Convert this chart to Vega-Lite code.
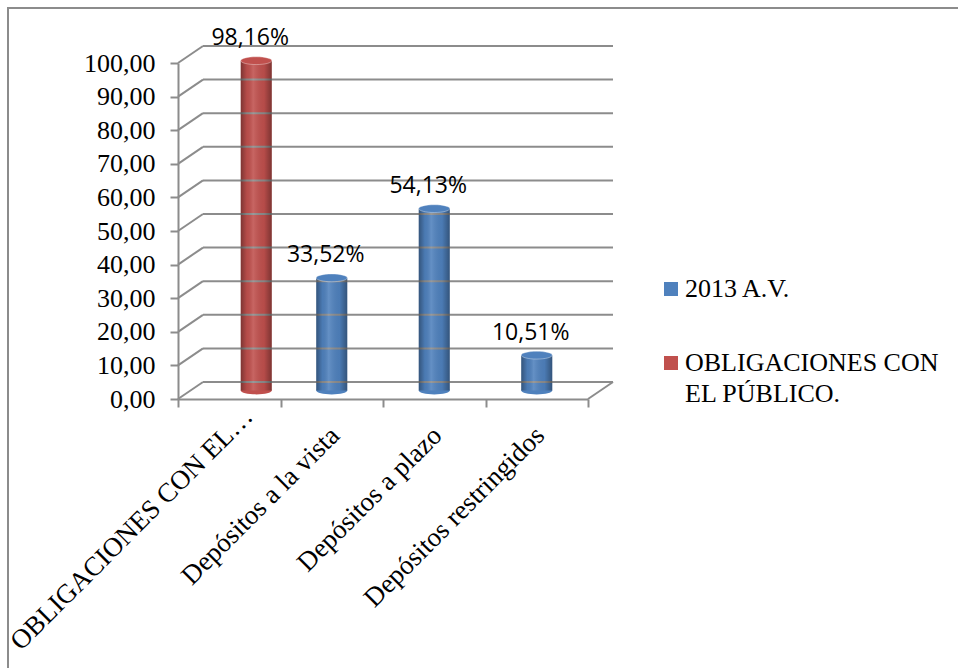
{
  "$schema": "https://vega.github.io/schema/vega-lite/v6.json",
  "width": 952,
  "height": 680,
  "autosize": {"type": "none"},
  "padding": {"left": 8, "top": 8, "right": 0, "bottom": 0},
  "background": "white",
  "config": {
    "view": {"stroke": "#8c8c8c", "strokeWidth": 2},
    "axis": {"grid": false, "title": null},
    "style": {"guide-label": {"lineHeight": 31}}
  },
  "datasets": {
    "barras": [
      {"categoria": "OBLIGACIONES CON EL PÚBLICO.", "serie": "OBLIGACIONES CON EL PÚBLICO.", "valor": 98.16},
      {"categoria": "Depósitos a la vista", "serie": "2013 A.V.", "valor": 33.52},
      {"categoria": "Depósitos a plazo", "serie": "2013 A.V.", "valor": 54.13},
      {"categoria": "Depósitos restringidos", "serie": "2013 A.V.", "valor": 10.51}
    ],
    "grid": [
      {"v": 0}, {"v": 10}, {"v": 20}, {"v": 30}, {"v": 40}, {"v": 50},
      {"v": 60}, {"v": 70}, {"v": 80}, {"v": 90}, {"v": 100}
    ]
  },
  "layer": [
    {
      "data": {"name": "barras"},
      "mark": {"type": "bar", "width": 31, "yOffset": -8.5, "y2Offset": -8.5,
        "xOffset": {"expr": "datum.serie == 'OBLIGACIONES CON EL PÚBLICO.' ? 27 : 0"}},
      "encoding": {
        "x": {
          "field": "categoria", "type": "nominal", "sort": null,
          "scale": {"domain": ["OBLIGACIONES CON EL PÚBLICO.", "Depósitos a la vista", "Depósitos a plazo", "Depósitos restringidos"], "range": [170, 580], "paddingInner": 0, "paddingOuter": 0},
          "axis": {
            "orient": "bottom", "offset": -289, "tickBand": "extent",
            "domainColor": "#8c8c8c", "domainWidth": 2, "tickColor": "#8c8c8c", "tickWidth": 2, "tickSize": 8,
            "labelAngle": -45, "labelAlign": "right", "labelBaseline": "middle",
            "labelFont": "Liberation Serif", "labelFontSize": 27, "labelColor": "black",
            "labelPadding": {"condition": {"test": "datum.value == 'OBLIGACIONES CON EL PÚBLICO.'", "value": 5}, "value": 24},
            "labelOffset": {"condition": {"test": "datum.value == 'OBLIGACIONES CON EL PÚBLICO.'", "value": 19}, "value": 3},
            "labelLimit": 333
          }
        },
        "y": {
          "field": "valor", "type": "quantitative",
          "scale": {"domain": [0, 100], "range": [391, 55], "nice": false, "zero": true},
          "axis": {
            "orient": "left", "offset": -170,
            "values": [0, 10, 20, 30, 40, 50, 60, 70, 80, 90, 100],
            "labelExpr": "replace(format(datum.value, '.2f'), '.', ',')",
            "domainColor": "#8c8c8c", "domainWidth": 2, "tickColor": "#8c8c8c", "tickWidth": 2, "tickSize": 8,
            "labelFont": "Liberation Serif", "labelFontSize": 26, "labelColor": "black", "labelPadding": 15
          }
        },
        "y2": {"datum": 0},
        "color": {
          "field": "serie", "type": "nominal",
          "scale": {"domain": ["2013 A.V.", "OBLIGACIONES CON EL PÚBLICO."], "range": ["#4F81BD", "#C0504D"]},
          "legend": {
            "orient": "none", "legendX": 650, "legendY": 268,
            "title": null, "symbolType": "square", "symbolSize": 196, "symbolStrokeWidth": 0,
            "labelFont": "Liberation Serif", "labelFontSize": 26, "labelColor": "black",
            "labelOffset": 1, "rowPadding": 48, "labelLimit": 400,
            "labelExpr": "datum.label == 'OBLIGACIONES CON EL PÚBLICO.' ? ['OBLIGACIONES CON', 'EL PÚBLICO.'] : datum.label"
          }
        }
      }
    },
    {
      "data": {"name": "grid"},
      "mark": {"type": "rule", "color": "#8c8c8c", "strokeWidth": 2, "xOffset": 25, "x2Offset": 25, "yOffset": -17},
      "encoding": {
        "x": {"datum": "OBLIGACIONES CON EL PÚBLICO.", "type": "nominal", "bandPosition": 0},
        "x2": {"datum": "Depósitos restringidos", "bandPosition": 1},
        "y": {"field": "v", "type": "quantitative"}
      }
    },
    {
      "data": {"name": "grid"},
      "mark": {"type": "rule", "color": "#8c8c8c", "strokeWidth": 2, "x2Offset": 25, "y2Offset": -17},
      "encoding": {
        "x": {"datum": "OBLIGACIONES CON EL PÚBLICO.", "type": "nominal", "bandPosition": 0},
        "x2": {"datum": "OBLIGACIONES CON EL PÚBLICO.", "bandPosition": 0},
        "y": {"field": "v", "type": "quantitative"},
        "y2": {"field": "v"}
      }
    },
    {
      "data": {"name": "grid"},
      "transform": [{"filter": "datum.v == 0"}],
      "mark": {"type": "rule", "color": "#8c8c8c", "strokeWidth": 2, "x2Offset": 25, "y2Offset": -17},
      "encoding": {
        "x": {"datum": "Depósitos restringidos", "type": "nominal", "bandPosition": 1},
        "x2": {"datum": "Depósitos restringidos", "bandPosition": 1},
        "y": {"field": "v", "type": "quantitative"},
        "y2": {"field": "v"}
      }
    },
    {
      "data": {"name": "barras"},
      "mark": {"type": "point", "filled": true, "opacity": 1, "size": 961, "shape": "M-1,0A1,0.25,0,1,0,1,0A1,0.25,0,1,0,-1,0Z", "yOffset": -8.5,
        "xOffset": {"expr": "datum.serie == 'OBLIGACIONES CON EL PÚBLICO.' ? 27 : 0"}},
      "encoding": {
        "x": {"field": "categoria", "type": "nominal", "sort": null},
        "y": {"datum": 0, "type": "quantitative"},
        "color": {"field": "serie", "type": "nominal"}
      }
    },
    {
      "data": {"name": "barras"},
      "mark": {"type": "bar", "width": 31, "yOffset": -8.5, "y2Offset": -8.5,
        "xOffset": {"expr": "datum.serie == 'OBLIGACIONES CON EL PÚBLICO.' ? 27 : 0"},
        "fill": {"gradient": "linear", "x1": 0, "x2": 1, "y1": 0, "y2": 0, "stops": [
          {"offset": 0, "color": "rgba(0,0,0,0.35)"},
          {"offset": 0.2, "color": "rgba(0,0,0,0.05)"},
          {"offset": 0.4, "color": "rgba(255,255,255,0.12)"},
          {"offset": 0.75, "color": "rgba(0,0,0,0.05)"},
          {"offset": 1, "color": "rgba(0,0,0,0.35)"}
        ]}},
      "encoding": {
        "x": {"field": "categoria", "type": "nominal", "sort": null},
        "y": {"field": "valor", "type": "quantitative"},
        "y2": {"datum": 0}
      }
    },
    {
      "data": {"name": "barras"},
      "mark": {"type": "point", "filled": true, "opacity": 1, "size": 961, "shape": "M-1,0A1,0.25,0,1,0,1,0A1,0.25,0,1,0,-1,0Z", "yOffset": -8.5,
        "stroke": "rgba(255,255,255,0.35)", "strokeWidth": 1,
        "xOffset": {"expr": "datum.serie == 'OBLIGACIONES CON EL PÚBLICO.' ? 27 : 0"}},
      "encoding": {
        "x": {"field": "categoria", "type": "nominal", "sort": null},
        "y": {"field": "valor", "type": "quantitative"},
        "color": {"field": "serie", "type": "nominal"}
      }
    },
    {
      "data": {"name": "barras"},
      "mark": {"type": "text", "font": "Open Sans", "fontSize": 23, "color": "black", "align": "center", "baseline": "alphabetic", "dx": -6, "dy": -24,
        "xOffset": {"expr": "datum.serie == 'OBLIGACIONES CON EL PÚBLICO.' ? 27 : 0"},
        "text": {"expr": "replace(format(datum.valor, '.2f'), '.', ',') + '%'"}},
      "encoding": {
        "x": {"field": "categoria", "type": "nominal", "sort": null},
        "y": {"field": "valor", "type": "quantitative"}
      }
    }
  ]
}
